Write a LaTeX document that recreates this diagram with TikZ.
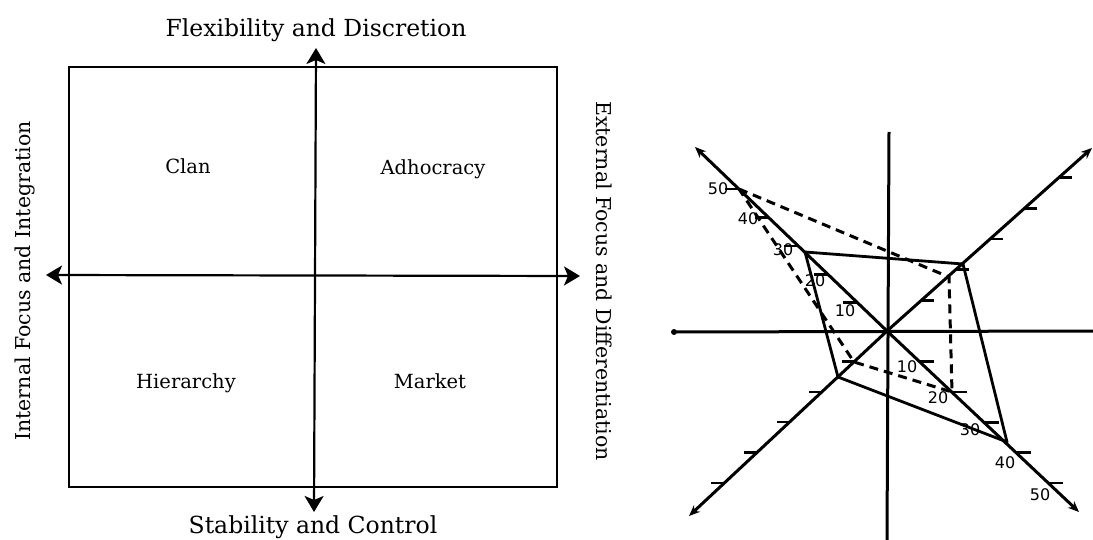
\documentclass[tikz,border=0pt]{standalone}
\usepackage{fontspec}
\setmainfont{DejaVu Serif}
\newfontfamily\numfont{DejaVu Sans}
\usetikzlibrary{arrows.meta}

\begin{document}
\begin{tikzpicture}[x=1pt,y=-1pt,
  frame/.style={line width=2.2pt},
  bigarrow/.style={line width=2.2pt,
    {Stealth[length=16pt,width=19pt,inset=4pt]}-{Stealth[length=16pt,width=19pt,inset=4pt]}},
  title/.style={font=\fontsize{23.5}{26}\selectfont, inner sep=0pt},
  side/.style={font=\fontsize{20.5}{24}\selectfont, inner sep=0pt},
  quad/.style={font=\fontsize{19.5}{22}\selectfont, inner sep=0pt},
  ray/.style={line width=3pt, -{Stealth[length=11pt,width=9pt]}},
  bar/.style={line width=3pt},
  tickmark/.style={line width=2.6pt},
  profile/.style={line width=2.8pt, line join=round},
  profiledash/.style={line width=3pt, dash pattern=on 9pt off 6pt},
  num/.style={font=\numfont\fontsize{16}{18}\selectfont, inner sep=0pt}]

\fill[white] (0,0) rectangle (1093,540);
\useasboundingbox (0,0) rectangle (1093,540);

% ---------- competing values framework ----------
\draw[frame] (69,67) rectangle (557,487);

\coordinate (vtop) at (316,48);
\coordinate (vbot) at (314,512);
\coordinate (hleft) at (46,275);
\coordinate (hright) at (580,276);
\draw[bigarrow] (vbot) -- (vtop);
\draw[bigarrow] (hleft) -- (hright);

\node[title, anchor=base] (flex) at (316,37) {Flexibility and Discretion};
\node[title, anchor=base] (stab) at (313,533) {Stability and Control};
\node[side, rotate=90] (internal) at (25,281) {Internal Focus and Integration};
\node[side, rotate=-90] (external) at (604,281) {External Focus and Differentiation};

\node[quad, anchor=base] (clan) at (188,174) {Clan};
\node[quad, anchor=base] (adhoc) at (433,175) {Adhocracy};
\node[quad, anchor=base] (hier) at (186,388) {Hierarchy};
\node[quad, anchor=base] (market) at (430,388) {Market};

% ---------- culture profile plot ----------
\coordinate (O) at (887,331);
\coordinate (tUL) at (695,147);
\coordinate (tUR) at (1092,148);
\coordinate (tLL) at (689,516);
\coordinate (tLR) at (1079,512);
\coordinate (yTop) at (889,132);
\coordinate (yBot) at (887,540);
\coordinate (xLeft) at (674,332);
\coordinate (xRight) at (1093,331);

\draw[bar] (yTop) -- (yBot);
\draw[bar, line cap=round] (xLeft) -- (xRight);
\fill (xLeft) circle (3pt);

\draw[ray] (O) -- (tUL);
\draw[ray] (O) -- (tUR);
\draw[ray] (O) -- (tLL);
\draw[ray] (O) -- (tLR);

% scale marks
\foreach \p in {(857.4,302.6),(827.8,274.3),(798.2,245.9),(768.6,217.5),(739.0,189.1)}
  \draw[tickmark] \p -- ++(-14,0);
\foreach \p in {(921.3,300.4),(955.6,269.7),(990.0,239.1),(1024.3,208.5),(1058.6,177.8)}
  \draw[tickmark] \p -- ++(13,0);
\foreach \p in {(919.2,361.4),(951.5,391.8),(983.7,422.2),(1015.9,452.5),(1048.2,482.9)}
  \draw[tickmark] \p -- ++(15,0);
\foreach \p in {(854.5,361.4),(822.0,391.8),(789.5,422.1),(757.0,452.5),(724.4,482.9)}
  \draw[tickmark] \p -- ++(-13,0);

% scale labels
\node[num] (ul10) at (845,311) {10};
\node[num] (ul20) at (815,281) {20};
\node[num] (ul30) at (783,250) {30};
\node[num] (ul40) at (748,219) {40};
\node[num] (ul50) at (718,189) {50};
\node[num] (lr10) at (907,367) {10};
\node[num] (lr20) at (938,398) {20};
\node[num] (lr30) at (970,430) {30};
\node[num] (lr40) at (1005,463) {40};
\node[num] (lr50) at (1040,495) {50};

% current and preferred profiles
\coordinate (s1) at (805,252);
\coordinate (s2) at (963,264);
\coordinate (s3) at (1007,442);
\coordinate (s4) at (838,377);
\draw[profile] (s1) -- (s2) -- (s3) -- (s4) -- cycle;

\coordinate (d1) at (739,189);
\coordinate (d2) at (949,277);
\coordinate (d3) at (952,392);
\coordinate (d4) at (854,362);
\draw[profiledash] (d1) -- (d2) -- (d3) -- (d4) -- cycle;

\end{tikzpicture}
\end{document}
